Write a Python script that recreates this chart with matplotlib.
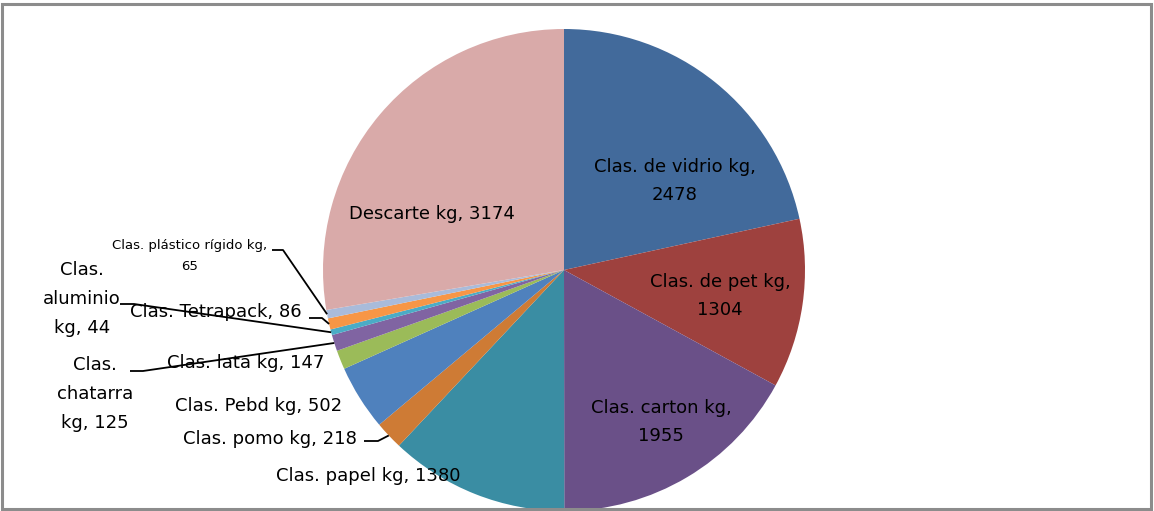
import numpy as np
import matplotlib.pyplot as plt
from matplotlib.patches import Rectangle

# Data (clockwise from 12 o'clock)
categories = ['Clas. de vidrio kg', 'Clas. de pet kg', 'Clas. carton kg',
              'Clas. papel kg', 'Clas. pomo kg', 'Clas. Pebd kg',
              'Clas. lata kg', 'Clas. chatarra kg', 'Clas. aluminio kg',
              'Clas. Tetrapack', 'Clas. plástico rígido kg', 'Descarte kg']
values = [2478, 1304, 1955, 1380, 218, 502, 147, 125, 44, 86, 65, 3174]
colors = ['#426A9B', '#9E413E', '#6A5088', '#3A8DA3', '#CE7B35', '#4F81BD',
          '#9BBB59', '#8064A2', '#4BACC6', '#F79646', '#A9BBDA', '#D9AAA9']

# label text as shown in the chart
label_texts = ['Clas. de vidrio kg,\n2478', 'Clas. de pet kg,\n1304',
               'Clas. carton kg,\n1955', 'Clas. papel kg, 1380',
               'Clas. pomo kg, 218', 'Clas. Pebd kg, 502',
               'Clas. lata kg, 147', 'Clas.\nchatarra\nkg, 125',
               'Clas.\naluminio\nkg, 44', 'Clas. Tetrapack, 86',
               'Clas. plástico rígido kg,\n65', 'Descarte kg, 3174']

# layout (pixel coords, y down)
W, H = 1154, 511
cx, cy, R = 564, 270, 241
label_pos = [(675, 181), (720, 296), (661, 422), (368, 476), (270, 439),
             (259, 406), (246, 363), (95, 394), (82, 299), (216, 312),
             (190, 256), (432, 214)]
label_size = [13] * 10 + [9.5, 13]
label_ls = [1.76] * 10 + [1.72, 1.76]
# leader start points with short horizontal stub: (x0, y, x1)
leaders = {4: (364, 441, 378), 7: (130, 371, 143), 8: (120, 304, 134),
           9: (309, 318, 322), 10: (272, 250, 283)}

fig = plt.figure(figsize=(W / 100, H / 100), dpi=100)
ax = fig.add_axes([0, 0, 1, 1])

wedges, _ = ax.pie(values, colors=colors, center=(cx, cy), radius=R,
                   startangle=-90, counterclock=True, frame=True,
                   wedgeprops=dict(linewidth=0))
ax.set_xlim(0, W)
ax.set_ylim(H, 0)  # image-style coords; pie still runs clockwise on screen
ax.axis('off')

for i, (txt, (x, y)) in enumerate(zip(label_texts, label_pos)):
    ax.text(x, y, txt, ha='center', va='center', fontsize=label_size[i],
            color='black', linespacing=label_ls[i], family='DejaVu Sans')

for i, (x0, y0, x1) in leaders.items():
    w = wedges[i]
    mid = np.deg2rad((w.theta1 + w.theta2) / 2)
    ex = cx + R * np.cos(mid)
    ey = cy + R * np.sin(mid)
    ax.plot([x0, x1, ex], [y0, y0, ey], color='black', lw=1.3,
            solid_capstyle='butt')

# outer chart frame
fig.patches.append(Rectangle((2 / W, 2 / H), (W - 5) / W, (H - 6) / H,
                             transform=fig.transFigure, fill=False,
                             edgecolor='#8C8C8C', lw=2.2, zorder=10))

fig.savefig('out.png', dpi=100)
